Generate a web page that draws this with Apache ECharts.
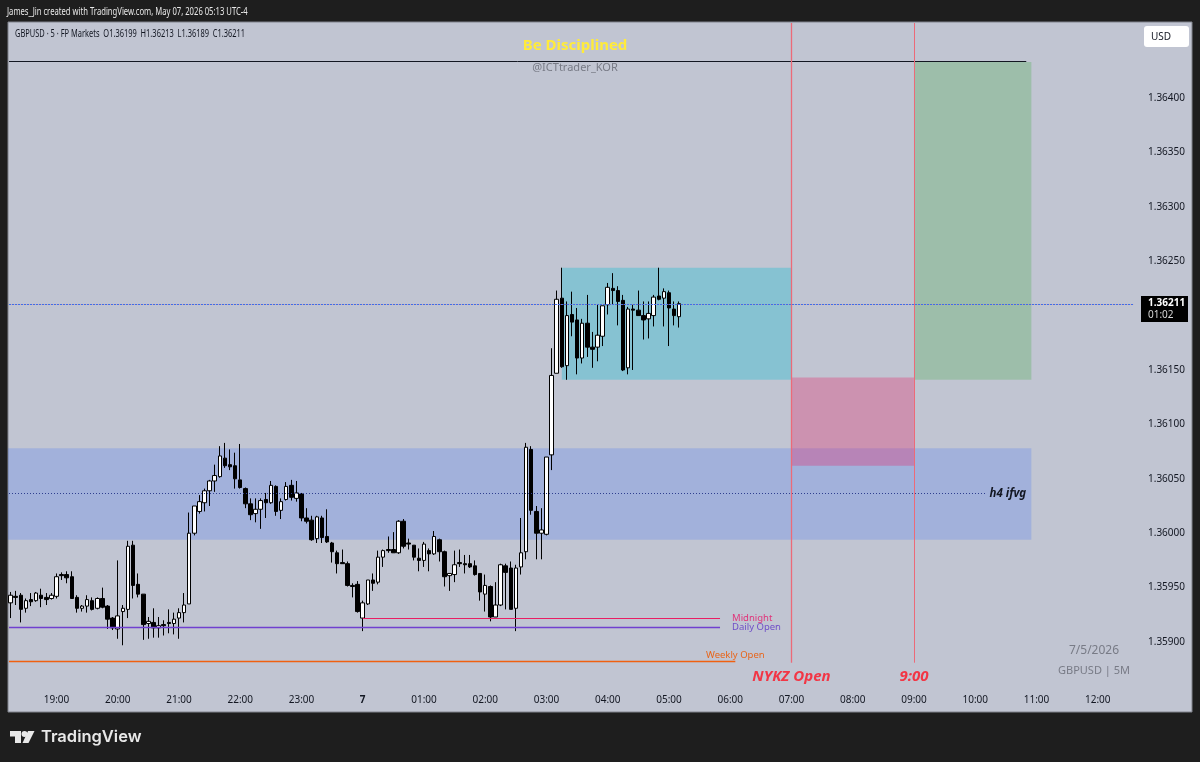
<!DOCTYPE html>
<html>
<head>
<meta charset="utf-8">
<style>
html, body { margin: 0; padding: 0; background: #1e1e1e; }
#chart { width: 1200px; height: 762px; }
</style>
<script src="https://cdn.jsdelivr.net/npm/echarts@6/dist/echarts.min.js"></script>
</head>
<body>
<div id="chart"></div>
<script>
const opens = [
  1.35936, 1.35942, 1.35943, 1.35931, 1.35939, 1.35938, 1.35943, 1.35941, 1.35940, 1.35942,
  1.35962, 1.35962, 1.35960, 1.35941, 1.35931, 1.35933, 1.35938, 1.35931, 1.35940, 1.35933,
  1.35922, 1.35912, 1.35928, 1.35930, 1.35989, 1.35953, 1.35944, 1.35917, 1.35918, 1.35913,
  1.35916, 1.35918, 1.35917, 1.35922, 1.35927, 1.35935, 1.36000, 1.36020, 1.36028, 1.36039,
  1.36048, 1.36052, 1.36069, 1.36063, 1.36062, 1.36049, 1.36041, 1.36027, 1.36018, 1.36022,
  1.36031, 1.36028, 1.36043, 1.36021, 1.36031, 1.36044, 1.36032, 1.36036, 1.36014, 1.36012,
  1.35995, 1.36014, 1.35997, 1.35991, 1.35982, 1.35973, 1.35972, 1.35952, 1.35953, 1.35922,
  1.35935, 1.35957, 1.35955, 1.35978, 1.35985, 1.35985, 1.35982, 1.36011, 1.35991, 1.35989,
  1.35977, 1.35975, 1.35984, 1.35981, 1.35994, 1.35983, 1.35961, 1.35962, 1.35973, 1.35972,
  1.35972, 1.35970, 1.35963, 1.35944, 1.35951, 1.35923, 1.35934, 1.35970, 1.35968, 1.35931,
  1.35969, 1.35983, 1.36077, 1.36020, 1.36000, 1.35999, 1.36072, 1.36147, 1.36216, 1.36154,
  1.36201, 1.36196, 1.36161, 1.36193, 1.36171, 1.36171, 1.36181, 1.36210, 1.36225, 1.36223,
  1.36214, 1.36152, 1.36206, 1.36205, 1.36200, 1.36197, 1.36200, 1.36218, 1.36216, 1.36221,
  1.36206, 1.36199
];
const closes = [
  1.35943, 1.35941, 1.35930, 1.35938, 1.35937, 1.35945, 1.35940, 1.35939, 1.35943, 1.35960,
  1.35961, 1.35959, 1.35940, 1.35931, 1.35933, 1.35939, 1.35930, 1.35940, 1.35932, 1.35921,
  1.35913, 1.35924, 1.35931, 1.35988, 1.35952, 1.35944, 1.35916, 1.35919, 1.35913, 1.35915,
  1.35915, 1.35917, 1.35921, 1.35927, 1.35934, 1.36000, 1.36025, 1.36029, 1.36039, 1.36048,
  1.36053, 1.36071, 1.36062, 1.36061, 1.36050, 1.36042, 1.36027, 1.36017, 1.36022, 1.36030,
  1.36028, 1.36044, 1.36020, 1.36029, 1.36043, 1.36033, 1.36037, 1.36014, 1.36011, 1.35994,
  1.36015, 1.35996, 1.35992, 1.35983, 1.35972, 1.35972, 1.35952, 1.35951, 1.35928, 1.35936,
  1.35957, 1.35954, 1.35978, 1.35984, 1.35984, 1.35982, 1.36011, 1.35988, 1.35990, 1.35978,
  1.35975, 1.35990, 1.35981, 1.35997, 1.35983, 1.35960, 1.35963, 1.35971, 1.35972, 1.35971,
  1.35969, 1.35962, 1.35946, 1.35952, 1.35923, 1.35934, 1.35971, 1.35964, 1.35930, 1.35968,
  1.35982, 1.36079, 1.36021, 1.36000, 1.36003, 1.36070, 1.36145, 1.36215, 1.36153, 1.36200,
  1.36194, 1.36161, 1.36193, 1.36171, 1.36169, 1.36182, 1.36209, 1.36226, 1.36223, 1.36213,
  1.36150, 1.36206, 1.36205, 1.36200, 1.36196, 1.36202, 1.36217, 1.36215, 1.36222, 1.36207,
  1.36200, 1.36211
];
const lows = [
  1.35922, 1.35934, 1.35918, 1.35927, 1.35933, 1.35937, 1.35932, 1.35934, 1.35939, 1.35940,
  1.35957, 1.35954, 1.35940, 1.35927, 1.35928, 1.35927, 1.35929, 1.35930, 1.35931, 1.35912,
  1.35911, 1.35903, 1.35897, 1.35922, 1.35940, 1.35941, 1.35902, 1.35903, 1.35904, 1.35904,
  1.35906, 1.35908, 1.35907, 1.35903, 1.35918, 1.35935, 1.35998, 1.36018, 1.36020, 1.36025,
  1.36038, 1.36051, 1.36060, 1.36058, 1.36041, 1.36041, 1.36023, 1.36012, 1.36010, 1.36004,
  1.36014, 1.36027, 1.36016, 1.36013, 1.36030, 1.36030, 1.36029, 1.36011, 1.36009, 1.35993,
  1.35991, 1.35991, 1.35991, 1.35973, 1.35963, 1.35972, 1.35951, 1.35941, 1.35927, 1.35910,
  1.35934, 1.35947, 1.35953, 1.35969, 1.35982, 1.35982, 1.35981, 1.35986, 1.35985, 1.35975,
  1.35965, 1.35969, 1.35965, 1.35980, 1.35974, 1.35951, 1.35947, 1.35955, 1.35969, 1.35963,
  1.35968, 1.35961, 1.35938, 1.35928, 1.35919, 1.35923, 1.35933, 1.35930, 1.35930, 1.35910,
  1.35962, 1.35976, 1.36017, 1.35976, 1.35976, 1.35998, 1.36058, 1.36147, 1.36152, 1.36141,
  1.36181, 1.36146, 1.36156, 1.36162, 1.36152, 1.36158, 1.36172, 1.36201, 1.36210, 1.36191,
  1.36149, 1.36146, 1.36150, 1.36200, 1.36178, 1.36179, 1.36190, 1.36214, 1.36190, 1.36172,
  1.36191, 1.36189
];
const highs = [
  1.35946, 1.35947, 1.35945, 1.35940, 1.35945, 1.35946, 1.35949, 1.35945, 1.35945, 1.35963,
  1.35964, 1.35965, 1.35965, 1.35943, 1.35934, 1.35943, 1.35941, 1.35941, 1.35950, 1.35934,
  1.35923, 1.35975, 1.35934, 1.35993, 1.35993, 1.35963, 1.35944, 1.35923, 1.35931, 1.35923,
  1.35920, 1.35930, 1.35927, 1.35931, 1.35945, 1.36019, 1.36025, 1.36035, 1.36041, 1.36049,
  1.36063, 1.36080, 1.36083, 1.36077, 1.36074, 1.36082, 1.36042, 1.36032, 1.36032, 1.36032,
  1.36037, 1.36048, 1.36044, 1.36032, 1.36047, 1.36049, 1.36048, 1.36037, 1.36023, 1.36016,
  1.36016, 1.36016, 1.36022, 1.35992, 1.35984, 1.35985, 1.35974, 1.35954, 1.35956, 1.35938,
  1.35957, 1.35963, 1.35984, 1.35985, 1.35997, 1.36001, 1.36012, 1.36013, 1.35995, 1.35989,
  1.35986, 1.35992, 1.35986, 1.36002, 1.35995, 1.35984, 1.35963, 1.35984, 1.35985, 1.35980,
  1.35980, 1.35975, 1.35963, 1.35962, 1.35952, 1.35955, 1.35972, 1.35972, 1.35974, 1.35971,
  1.36014, 1.36083, 1.36080, 1.36025, 1.36023, 1.36070, 1.36170, 1.36223, 1.36244, 1.36213,
  1.36222, 1.36207, 1.36197, 1.36219, 1.36185, 1.36210, 1.36209, 1.36230, 1.36239, 1.36227,
  1.36219, 1.36208, 1.36210, 1.36223, 1.36213, 1.36213, 1.36219, 1.36244, 1.36225, 1.36223,
  1.36213, 1.36213
];
const tickLabels = ["19:00", "20:00", "21:00", "22:00", "23:00", "7", "01:00", "02:00", "03:00", "04:00",
  "05:00", "06:00", "07:00", "08:00", "09:00", "10:00", "11:00", "12:00"];
const priceTicks = [1.359, 1.3595, 1.36, 1.3605, 1.361, 1.3615, 1.362, 1.3625, 1.363, 1.3635, 1.364];

// price levels of the drawings
const blueZone = [1.36078, 1.35994];
const cyanZone = [1.36244, 1.36141];
const pinkZone = [1.36143, 1.36062];
const greenZone = [1.36433, 1.36141];
const topLine = 1.364335;
const ifvgLine = 1.360365;
const lastPrice = 1.362105;
const midnight = 1.359216;
const dailyOpen = 1.359133;
const weeklyOpen = 1.358821;
const sessionEnd = 1.35881;
const axisMin = 1.358366;
const axisMax = 1.364689;

// one 5 minute slot per category, from 18:15 to 12:35
const categories = [];
for (let i = 0; i < 221; i++) {
  const mins = (18 * 60 + 15 + i * 5) % 1440;
  const label = String(Math.floor(mins / 60)).padStart(2, "0") + ":" + String(mins % 60).padStart(2, "0");
  categories.push(label === "00:00" ? "7" : label);
}
const candles = opens.map((o, i) => [o, closes[i], lows[i], highs[i]]);

const font = "'Noto Sans', sans-serif";
const txt = (x, y, text, css, fill, extra, scaleX) => ({
  type: "text", x, y, z: 100, scaleX: scaleX || 1,
  style: Object.assign({text, font: css, fill, textVerticalAlign: "middle"}, extra)
});
// no x value means the left edge of the plot
const fromEdge = (price, lineStyle, label) => ({x: 9, coord: [NaN, price], lineStyle, label: label || {show: false}});

const chart = echarts.init(document.getElementById("chart"));
chart.setOption({
  animation: false,
  backgroundColor: "#1e1e1e",
  grid: {left: 8, right: 64, top: 23, bottom: 51},
  xAxis: {
    type: "category",
    data: categories,
    boundaryGap: true,
    axisLine: {show: false},
    axisTick: {show: false},
    splitLine: {show: false},
    axisLabel: {
      inside: true,
      margin: 6,
      hideOverlap: false,
      interval: (idx, val) => tickLabels.includes(val),
      formatter: (val) => val === "7" ? "{b|7}" : val,
      rich: {b: {fontWeight: "bold", fontSize: 10, fontFamily: font, color: "#131722"}},
      color: "#131722",
      fontSize: 10,
      fontFamily: font
    }
  },
  yAxis: {
    type: "value",
    position: "right",
    min: axisMin,
    max: axisMax,
    scale: true,
    axisLine: {show: false},
    axisTick: {show: false},
    splitLine: {show: false},
    axisLabel: {
      customValues: priceTicks,
      margin: 12,
      color: "#131722",
      fontSize: 10,
      fontFamily: font,
      formatter: (v) => v.toFixed(5)
    }
  },
  series: [{
    type: "candlestick",
    data: candles,
    barWidth: 4,
    itemStyle: {color: "#ffffff", color0: "#000000", borderColor: "#000000", borderColor0: "#000000", borderWidth: 1},
    markArea: {
      silent: true,
      data: [
        [{yAxis: blueZone[0], itemStyle: {color: "rgba(41,98,255,0.2)"}}, {xAxis: "10:55", yAxis: blueZone[1]}],
        [{xAxis: "03:15", yAxis: cyanZone[0], itemStyle: {color: "rgba(0,188,212,0.3)"}}, {xAxis: "07:00", yAxis: cyanZone[1]}],
        [{xAxis: "07:00", yAxis: pinkZone[0], itemStyle: {color: "rgba(233,30,99,0.3)"}}, {xAxis: "09:00", yAxis: pinkZone[1]}],
        [{xAxis: "09:00", yAxis: greenZone[0], itemStyle: {color: "rgba(76,175,80,0.3)"}}, {xAxis: "10:55", yAxis: greenZone[1]}]
      ]
    },
    markLine: {
      silent: true,
      symbol: "none",
      animation: false,
      data: [
        [fromEdge(topLine, {color: "#131722", width: 1, type: "solid"}), {coord: ["10:50", topLine]}],
        [fromEdge(ifvgLine, {color: "#2f3f8f", width: 1, type: [1, 2]},
          {show: true, position: "end", distance: 4, formatter: "h4 ifvg", color: "#131722", fontFamily: font, fontSize: 11.5, fontWeight: "bold", fontStyle: "italic"}),
          {coord: ["10:10", ifvgLine]}],
        [fromEdge(lastPrice, {color: "#e8808c", width: 1, type: "solid", opacity: 0.4}), {coord: ["12:35", lastPrice]}],
        [fromEdge(lastPrice, {color: "#3f6fe8", width: 1, type: [2, 1]}), {coord: ["12:35", lastPrice]}],
        [{coord: ["7", midnight], lineStyle: {color: "#e91e63", width: 1, type: "solid"},
          label: {show: true, position: "end", distance: 12, formatter: "Midnight", color: "#e0347a", fontFamily: font, fontSize: 9.5}},
          {coord: ["05:50", midnight]}],
        [fromEdge(dailyOpen, {color: "#7040d0", width: 1.3, type: "solid"},
          {show: true, position: "end", distance: 12, formatter: "Daily Open", color: "#6f4fc8", fontFamily: font, fontSize: 9.5}),
          {coord: ["05:50", dailyOpen]}],
        [fromEdge(weeklyOpen, {color: "#f06010", width: 1.3, type: "solid"}), {coord: ["06:05", weeklyOpen]}],
        [{coord: ["07:00", axisMax], lineStyle: {color: "#ec6a78", width: 1.3, type: "solid"},
          label: {show: true, position: "end", distance: 7, formatter: "NYKZ Open", color: "#f23645", fontFamily: font, fontSize: 15, fontWeight: "bold", fontStyle: "italic"}},
          {coord: ["07:00", sessionEnd]}],
        [{coord: ["09:00", axisMax], lineStyle: {color: "#ec6a78", width: 1, type: "solid"},
          label: {show: true, position: "end", distance: 7, formatter: "9:00", color: "#f23645", fontFamily: font, fontSize: 15, fontWeight: "bold", fontStyle: "italic"}},
          {coord: ["09:00", sessionEnd]}]
      ]
    },
    markPoint: {
      silent: true,
      symbol: "circle",
      symbolSize: 0,
      data: [{
        coord: ["06:05", weeklyOpen],
        label: {show: true, position: "top", distance: 1, formatter: "Weekly Open", color: "#e8651a", fontFamily: font, fontSize: 9.5}
      }]
    }
  }],
  graphic: [
    {type: "rect", z: -10, shape: {x: 8, y: 22, width: 1184, height: 690}, style: {fill: "#c1c5d2", stroke: "#80838c", lineWidth: 1}},
    txt(7, 12, "James_Jin created with TradingView.com, May 07, 2026 05:13 UTC-4", "11px " + font, "#e8e8e8", {}, 0.696),
    txt(15, 34, "GBPUSD · 5 · FP Markets  O1.36199  H1.36213  L1.36189  C1.36211", "11px " + font, "#131722", {}, 0.677),
    txt(575, 46, "Be Disciplined", "bold 15px " + font, "#ffeb3b", {textAlign: "center"}),
    txt(575, 68, "@ICTtrader_KOR", "11px " + font, "#787b86", {textAlign: "center"}),
    txt(1094, 651, "7/5/2026", "12px " + font, "#787b86", {textAlign: "center"}),
    txt(1094, 671, "GBPUSD | 5M", "11px " + font, "#787b86", {textAlign: "center"}),
    {type: "rect", z: 99, shape: {x: 1144, y: 26, width: 45, height: 21, r: 3}, style: {fill: "#ffffff"}},
    txt(1151, 37, "USD", "10px " + font, "#131722"),
    {type: "rect", z: 99, shape: {x: 1141, y: 296, width: 47, height: 26}, style: {fill: "#000000"}},
    txt(1148, 303, "1.36211", "bold 10px " + font, "#ffffff"),
    txt(1148, 315, "01:02", "10px " + font, "#d8d8d8"),
    {type: "polygon", z: 100, shape: {points: [[10, 731], [21, 731], [21, 743], [15, 743], [15, 736.5], [10, 736.5]]}, style: {fill: "#e8e8e8"}},
    {type: "circle", z: 100, shape: {cx: 24.5, cy: 734, r: 3}, style: {fill: "#e8e8e8"}},
    {type: "polygon", z: 100, shape: {points: [[28, 731], [34.5, 731], [28.5, 743], [22.5, 743]]}, style: {fill: "#e8e8e8"}},
    txt(41, 737, "TradingView", "600 16.5px Inter, sans-serif", "#e8e8e8")
  ]
});
window.addEventListener("resize", () => chart.resize());
</script>
</body>
</html>
